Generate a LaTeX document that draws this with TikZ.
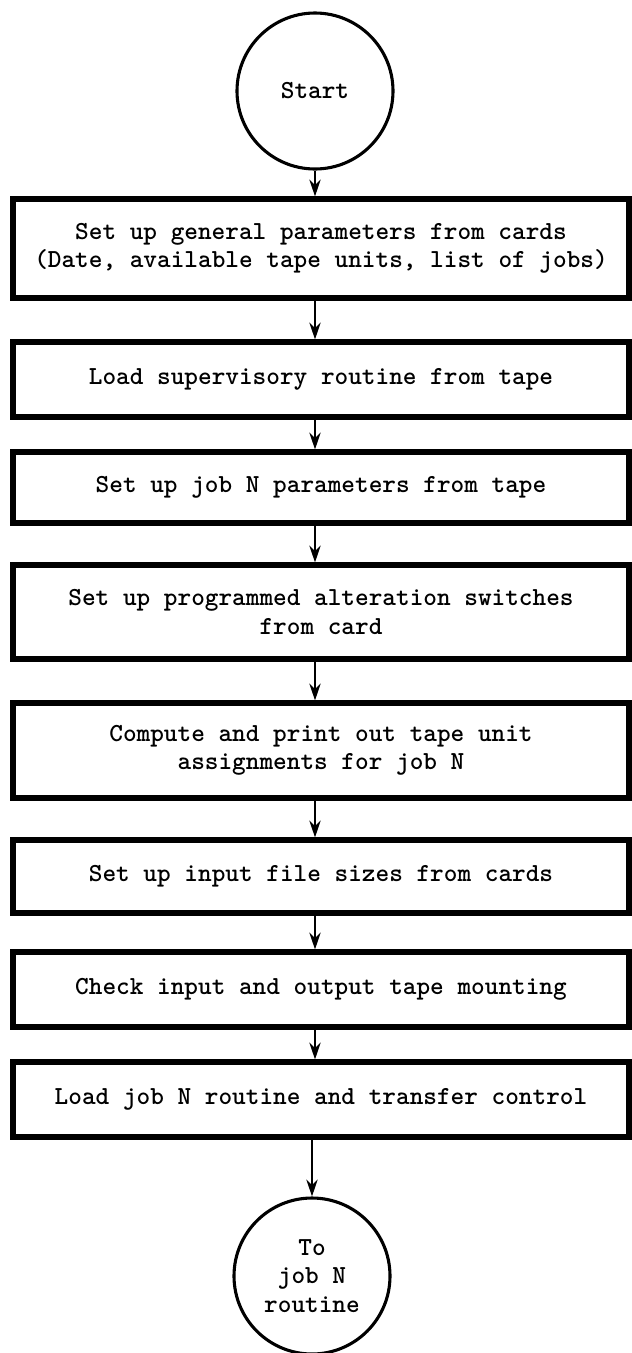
\documentclass[tikz,border=0pt]{standalone}
\usepackage{fontspec}
\usetikzlibrary{arrows.meta}

\tikzset{
    term/.style={draw, circle, line width=2.2pt, minimum size=3.9cm, inner sep=0pt, align=center},
    stepbox/.style={draw, rectangle, line width=3.6pt, minimum width=15.4cm, align=center, inner sep=0pt},
    flow/.style={-{Stealth[length=12pt,width=8pt]}, line width=1.6pt}
}

\begin{document}
\begin{tikzpicture}[font=\ttfamily\bfseries\fontsize{18.5}{20}\selectfont]

    \useasboundingbox (0,0) rectangle (15.8,-33.825);

    %% Terminals
    \node[term] (start) at (7.875,-2.275) {Start};
    \node[term] (tojob) at (7.8,-31.9) {To\\job N\\routine};

    %% Steps
    \node[stepbox, minimum height=2.475cm] (general) at (8.025,-6.2125)
        {Set up general parameters from cards\\(Date, available tape units, list of jobs)};
    \node[stepbox, minimum height=1.875cm] (supervisory) at (8.025,-9.4875)
        {Load supervisory routine from tape};
    \node[stepbox, minimum height=1.775cm] (jobparams) at (8.025,-12.1875)
        {Set up job N parameters from tape};
    \node[stepbox, minimum height=2.35cm] (switches) at (8.025,-15.3)
        {Set up programmed alteration switches\\from card};
    \node[stepbox, minimum height=2.375cm] (assign) at (8.025,-18.7625)
        {Compute and print out tape unit\\assignments for job N};
    \node[stepbox, minimum height=1.825cm] (filesizes) at (8.025,-21.9125)
        {Set up input file sizes from cards};
    \node[stepbox, minimum height=1.875cm] (mounting) at (8.025,-24.7375)
        {Check input and output tape mounting};
    \node[stepbox, minimum height=1.875cm] (transfer) at (8.025,-27.4875)
        {Load job N routine and transfer control};

    %% Flow lines
    \draw[flow] (start.south) -- (start.south |- general.north);
    \draw[flow] (start.south |- general.south) -- (start.south |- supervisory.north);
    \draw[flow] (start.south |- supervisory.south) -- (start.south |- jobparams.north);
    \draw[flow] (start.south |- jobparams.south) -- (start.south |- switches.north);
    \draw[flow] (start.south |- switches.south) -- (start.south |- assign.north);
    \draw[flow] (start.south |- assign.south) -- (start.south |- filesizes.north);
    \draw[flow] (start.south |- filesizes.south) -- (start.south |- mounting.north);
    \draw[flow] (start.south |- mounting.south) -- (start.south |- transfer.north);
    \draw[flow] (tojob.north |- transfer.south) -- (tojob.north);

\end{tikzpicture}
\end{document}
